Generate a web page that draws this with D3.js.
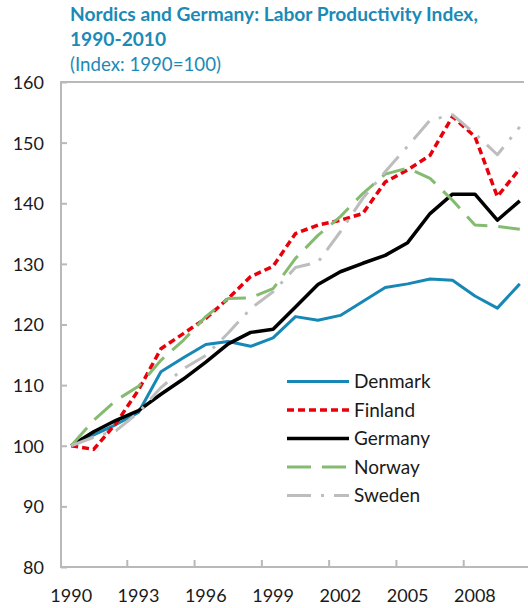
<!DOCTYPE html>
<html><head><meta charset="utf-8">
<script src="https://cdn.jsdelivr.net/npm/d3@7/dist/d3.min.js"></script>
<style>html,body{margin:0;padding:0;background:#fff;} svg{display:block;font-family:Lato,"Open Sans",sans-serif;}</style>
</head><body><svg id="c" width="528" height="608"></svg>
<script>
const years = [1990,1991,1992,1993,1994,1995,1996,1997,1998,1999,2000,2001,2002,2003,2004,2005,2006,2007,2008,2009,2010];
const denmark = [100,101.8,103.5,105.5,112.2,114.5,116.7,117.2,116.4,117.8,121.3,120.7,121.5,123.8,126.1,126.7,127.5,127.3,124.7,122.7,126.7];
const finland = [100,99.4,103.7,109.2,116.0,118.5,121.0,124.3,127.9,129.6,135.0,136.4,137.2,138.3,143.5,145.5,147.9,154.3,151.0,141.1,145.7];
const germany = [100,102.3,104.2,105.8,108.5,111.0,113.8,116.8,118.7,119.2,122.9,126.6,128.7,130.1,131.4,133.5,138.3,141.5,141.5,137.2,140.4];
const norway  = [100,104.2,107.5,109.8,114.1,117.4,121.3,124.3,124.4,125.9,130.9,134.7,137.8,141.6,144.8,145.8,144.1,140.5,136.4,136.2,135.7];
const sweden  = [100,101.4,102.5,105.5,109.6,112.7,114.9,118.6,122.6,125.4,129.4,130.3,135.3,140.8,145.2,149.4,153.7,154.6,151.5,148.0,152.6];
const seriesNames = ["Denmark","Finland","Germany","Norway","Sweden"];
const yTicks = [80,90,100,110,120,130,140,150,160];
const xTickYears = [1990,1993,1996,1999,2002,2005,2008];
const titleLines = ["Nordics and Germany: Labor Productivity Index,","1990-2010"];
const subtitle = "(Index: 1990=100)";

// styles (kept separate from data)
const styles = {
  Denmark:{color:"#1787b6", width:3, dash:null},
  Finland:{color:"#e8000b", width:3.5, dash:"7,4"},
  Germany:{color:"#000000", width:3.5, dash:null},
  Norway:{color:"#84bb70", width:3, dash:"24,11"},
  Sweden:{color:"#bdbdbd", width:3, dash:"24,10,3,10"}
};
const seriesData = {Denmark:denmark, Finland:finland, Germany:germany, Norway:norway, Sweden:sweden};

const svg = d3.select("#c");
const L = 61, T = 82, B = 567, Rb = 531;
const x = d3.scaleBand().domain(years).range([60, Rb]).paddingInner(0).paddingOuter(0);
const xc = d => x(d) + x.bandwidth()/2;
const y = d3.scaleLinear().domain([80,160]).range([B, T]);
const axisColor = "#b9b9b9";
const textColor = "#1a1a1a";

// Title
function fitText(sel, target){
  const len = sel.node().getComputedTextLength();
  const fs = parseFloat(sel.attr("font-size"));
  sel.attr("font-size", (fs*target/len).toFixed(2));
}
const t1 = svg.append("text").attr("x",70).attr("y",21).attr("font-size",17).attr("font-weight","bold").attr("fill","#1b8ab6").text(titleLines[0]);
fitText(t1, 408);
const t2 = svg.append("text").attr("x",70).attr("y",45.5).attr("font-size",t1.attr("font-size")).attr("font-weight","bold").attr("fill","#1b8ab6").text(titleLines[1]);
const st = svg.append("text").attr("x",70).attr("y",71).attr("font-size",17).attr("fill","#1b8ab6").text(subtitle);
fitText(st, 151);

// frame top line
svg.append("line").attr("x1",L).attr("x2",524).attr("y1",T).attr("y2",T).attr("stroke",axisColor).attr("stroke-width",2);

// Y axis
const yAxis = d3.axisLeft(y).tickValues(yTicks).tickSize(-7).tickPadding(0).tickFormat(d3.format("d"));
const gy = svg.append("g").attr("transform",`translate(${L},0)`).call(yAxis);
gy.select(".domain").attr("stroke",axisColor).attr("stroke-width",2).attr("d",`M0,${T-1}V${B+1}`);
gy.selectAll(".tick line").attr("stroke",axisColor).attr("stroke-width",2).attr("x1",0).attr("x2",6);
gy.selectAll(".tick text").attr("x",-17).attr("dy","0.36em").attr("font-size",18).attr("fill",textColor).attr("font-family","Lato, sans-serif").attr("text-anchor","end");

// X axis
const gx = svg.append("g").attr("transform",`translate(0,${B})`);
gx.append("line").attr("x1",L-1).attr("x2",528).attr("y1",0).attr("y2",0).attr("stroke",axisColor).attr("stroke-width",2);
gx.selectAll("line.tk").data(xTickYears.slice(1)).join("line").attr("class","tk")
  .attr("x1",d=>x(d)).attr("x2",d=>x(d)).attr("y1",0).attr("y2",-7).attr("stroke",axisColor).attr("stroke-width",2);
gx.selectAll("text").data(xTickYears).join("text")
  .attr("x",d=>xc(d)).attr("y",34.5).attr("text-anchor","middle").attr("font-size",18).attr("fill",textColor).text(d=>d);

// Lines
const line = d3.line().x((d,i)=>xc(years[i])).y(d=>y(d)).curve(d3.curveLinear);
seriesNames.forEach(n=>{
  const s = styles[n];
  svg.append("path").datum(seriesData[n]).attr("d",line).attr("fill","none")
    .attr("stroke",s.color).attr("stroke-width",s.width).attr("stroke-linejoin","round")
    .attr("stroke-dasharray",s.dash);
});

// Legend
const lg = svg.append("g");
seriesNames.forEach((n,i)=>{
  const s = styles[n];
  const yy = 381.5 + i*28.5;
  lg.append("line").attr("x1",287).attr("x2",349).attr("y1",yy).attr("y2",yy)
    .attr("stroke",s.color).attr("stroke-width",s.width).attr("stroke-dasharray",s.dash);
  lg.append("text").attr("x",354).attr("y",yy).attr("dy","0.36em").attr("font-size",19).attr("fill",textColor).text(n);
});
</script>
</body></html>
